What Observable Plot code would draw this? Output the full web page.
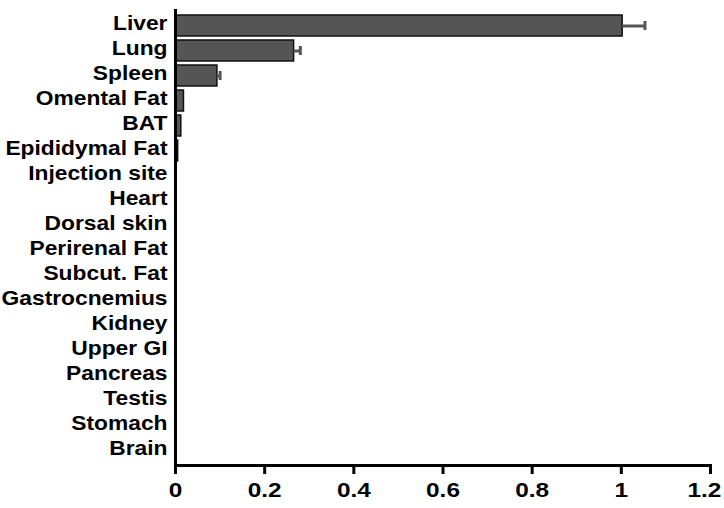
<!DOCTYPE html>
<html>
<head>
<meta charset="utf-8">
<script src="https://cdn.jsdelivr.net/npm/d3@7"></script>
<script src="https://cdn.jsdelivr.net/npm/@observablehq/plot@0.6"></script>
<style>
  html, body { margin: 0; padding: 0; background: #fff; }
  #chart svg { display: block; }
</style>
</head>
<body>
<div id="chart"></div>
<script>
const organs = ["Liver","Lung","Spleen","Omental Fat","BAT","Epididymal Fat","Injection site","Heart","Dorsal skin","Perirenal Fat","Subcut. Fat","Gastrocnemius","Kidney","Upper GI","Pancreas","Testis","Stomach","Brain"];
const values = [1.003, 0.266, 0.094, 0.019, 0.013, 0.006, 0, 0, 0, 0, 0, 0, 0, 0, 0, 0, 0, 0];
const errors = [0.050, 0.014, 0.006, 0, 0, 0, 0, 0, 0, 0, 0, 0, 0, 0, 0, 0, 0, 0];
const xTicks = [0, 0.2, 0.4, 0.6, 0.8, 1, 1.2];

const data = organs.map((o, i) => ({organ: o, value: values[i], err: errors[i]}));
const withErr = data.filter(d => d.err > 0);

const chart = Plot.plot({
  width: 724,
  height: 508,
  marginLeft: 175,
  marginRight: 14,
  marginTop: 10,
  marginBottom: 43,
  style: {fontFamily: "'Liberation Sans', Arial, sans-serif", fontWeight: "bold", fontSize: "20px", color: "#000", background: "#fff"},
  x: {domain: [0, 1.2]},
  y: {domain: organs, paddingInner: 0.17, paddingOuter: 0.12},
  marks: [
    Plot.barX(data, {x: "value", y: "organ", fill: "#555555", stroke: "#111", strokeWidth: 1.5}),
    Plot.ruleY(withErr, {y: "organ", x1: "value", x2: d => d.value + d.err, stroke: "#555555", strokeWidth: 3}),
    Plot.tickX(withErr, {x: d => d.value + d.err, y: "organ", stroke: "#555555", strokeWidth: 3, insetTop: 6, insetBottom: 6}),
    Plot.axisY({tickSize: 0, tickPadding: 8, fontSize: 20, dy: -2, label: null}),
    Plot.axisX({ticks: xTicks, tickFormat: d => String(d), tickSize: 9, strokeWidth: 3, tickPadding: 8, fontSize: 20, label: null}),
    Plot.frame({anchor: "left", strokeWidth: 3, stroke: "#000"}),
    Plot.frame({anchor: "bottom", strokeWidth: 3, stroke: "#000"})
  ]
});
document.getElementById("chart").appendChild(chart);
// widen the tick labels horizontally, as the reference's lettering is wide
function widen(selector, sx) {
  chart.querySelectorAll(selector).forEach(t => {
    const tr = t.getAttribute("transform") || "";
    t.setAttribute("transform", tr + ` scale(${sx},1)`);
  });
}
widen('g[aria-label="y-axis tick label"] text', 1.14);
widen('g[aria-label="x-axis tick label"] text', 1.22);
const xl = chart.querySelectorAll('g[aria-label="x-axis tick label"] text');
if (xl.length) xl[xl.length - 1].setAttribute("dx", "-5");
</script>
</body>
</html>
